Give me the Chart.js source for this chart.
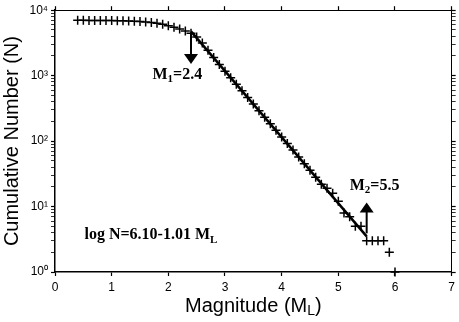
<!DOCTYPE html>
<html>
<head>
<meta charset="utf-8">
<script src="https://cdn.jsdelivr.net/npm/chart.js@4"></script>
<style>
  html, body { margin: 0; padding: 0; background: #fff; }
</style>
</head>
<body>
<canvas id="chart" width="459" height="322"></canvas>
<script>
// magnitude bins and cumulative event counts
const magnitudes = [0.4, 0.5, 0.6, 0.7, 0.8, 0.9, 1.0, 1.1, 1.2, 1.3, 1.4, 1.5, 1.6, 1.7, 1.8, 1.9,
  2.0, 2.1, 2.2, 2.3, 2.4, 2.5, 2.6, 2.7, 2.8, 2.9, 3.0, 3.1, 3.2, 3.3, 3.4, 3.5, 3.6, 3.7, 3.8, 3.9,
  4.0, 4.1, 4.2, 4.3, 4.4, 4.5, 4.6, 4.7, 4.8, 4.9, 5.0, 5.1, 5.2, 5.3, 5.4, 5.5, 5.6, 5.7, 5.8, 5.9, 6.0];
const cumulative = [7000, 7000, 6990, 6980, 6970, 6960, 6940, 6920, 6890, 6850, 6800, 6720, 6620, 6480, 6300, 6080,
  5800, 5480, 5150, 4800, 4450, 3900, 3150, 2450, 1900, 1480, 1170, 930, 740, 590, 465, 370, 292, 232, 184, 146,
  116, 92, 73, 57, 45, 36, 28, 22, 19, 16, 12, 8, 7, 5, 5, 3, 3, 3, 3, 2, 1];

// Gutenberg-Richter fit line end points
const fitM = [2.4, 5.5];
const fitN = [4740, 3.5];

// completeness / max magnitude markers
const thresholdNames = ['1', '2'];
const thresholdM = [2.4, 5.5];
const arrowFromN = [4450, 3.9];
const arrowToN = [1500, 11.5];
const labelM = [1.72, 5.2];
const labelN = [1040, 20.8];

const eqText = 'log N=6.10-1.01 M';
const eqSub = 'L';
const eqM = 0.52;
const eqN = 3.64;

const xTickValues = [0, 1, 2, 3, 4, 5, 6, 7];
const yTickValues = [1, 2, 3, 4, 5, 6, 7, 8, 9, 10, 20, 30, 40, 50, 60, 70, 80, 90,
  100, 200, 300, 400, 500, 600, 700, 800, 900, 1000, 2000, 3000, 4000, 5000, 6000, 7000, 8000, 9000, 10000];
const yLabelValues = [1, 10, 100, 1000, 10000];
const yLabelTexts = ['10\u2070', '10\u00b9', '10\u00b2', '10\u00b3', '10\u2074'];

const sans = 'Liberation Sans';
const serif = 'Liberation Serif';

// draws text with subscript parts, left aligned, vertically centred on y
function drawRuns(ctx, runs, x, y, size, family, weight) {
  let cx = x;
  runs.forEach(([txt, sub]) => {
    const s = sub ? Math.round(size * 0.7) : size;
    ctx.font = `${weight} ${s}px "${family}"`;
    ctx.fillText(txt, cx, sub ? y + size * 0.28 : y);
    cx += ctx.measureText(txt).width;
  });
  return cx - x;
}

const annotate = {
  id: 'annotate',
  afterDraw(chart) {
    const { ctx, scales: { x, y }, chartArea } = chart;
    ctx.save();
    ctx.fillStyle = '#000';
    ctx.strokeStyle = '#000';
    ctx.textBaseline = 'middle';
    ctx.textAlign = 'left';

    thresholdM.forEach((m, i) => {
      const px = x.getPixelForValue(m);
      const y0 = y.getPixelForValue(arrowFromN[i]);
      const y1 = y.getPixelForValue(arrowToN[i]);
      const dir = y1 > y0 ? 1 : -1;
      ctx.lineWidth = 2;
      ctx.beginPath();
      ctx.moveTo(px, y0);
      ctx.lineTo(px, y1 - dir * 9);
      ctx.stroke();
      ctx.beginPath();
      ctx.moveTo(px, y1);
      ctx.lineTo(px - 7, y1 - dir * 10);
      ctx.lineTo(px + 7, y1 - dir * 10);
      ctx.closePath();
      ctx.fill();

      drawRuns(ctx, [['M', false], [thresholdNames[i], true], ['=' + thresholdM[i].toFixed(1), false]],
        x.getPixelForValue(labelM[i]), y.getPixelForValue(labelN[i]), 16, serif, 'bold');
    });

    drawRuns(ctx, [[eqText, false], [eqSub, true]],
      x.getPixelForValue(eqM), y.getPixelForValue(eqN), 16, serif, 'bold');

    // x axis title with subscript
    const runs = [['Magnitude (M', false], ['L', true], [')', false]];
    ctx.globalAlpha = 0;
    const w = drawRuns(ctx, runs, 0, -100, 20, sans, 'normal');
    ctx.globalAlpha = 1;
    const cx = (chartArea.left + chartArea.right) / 2;
    drawRuns(ctx, runs, cx - w / 2, 306, 20, sans, 'normal');
    ctx.restore();
  }
};

const tickGrid = {
  drawOnChartArea: false,
  tickLength: 4,
  tickColor: '#000',
  color: '#000',
  tickWidth: (c) => (c.tick && c.tick.major ? 1.2 : 0.8)
};

new Chart(document.getElementById('chart'), {
  type: 'scatter',
  data: {
    datasets: [
      {
        label: 'Cumulative number',
        data: magnitudes.map((m, i) => ({ x: m, y: cumulative[i] })),
        pointStyle: 'cross',
        pointRadius: 4.5,
        pointBorderWidth: 1.5,
        borderColor: '#000',
        backgroundColor: '#000',
        showLine: false,
        clip: false
      },
      {
        label: 'Fit',
        data: fitM.map((m, i) => ({ x: m, y: fitN[i] })),
        showLine: true,
        borderColor: '#000',
        borderWidth: 2.5,
        pointRadius: 0
      }
    ]
  },
  options: {
    responsive: false,
    animation: false,
    devicePixelRatio: 1,
    layout: { padding: 0 },
    plugins: {
      legend: { display: false },
      tooltip: { enabled: false }
    },
    scales: {
      x: {
        type: 'linear',
        position: 'bottom',
        min: 0,
        max: 7,
        afterBuildTicks: (s) => { s.ticks = xTickValues.map((v) => ({ value: v, major: true })); },
        afterFit: (s) => { s.height = 50; },
        ticks: { color: '#000', font: { family: sans, size: 12 }, padding: 4, maxRotation: 0, autoSkip: false },
        grid: tickGrid,
        border: { color: '#000', width: 1.5 }
      },
      x2: {
        type: 'linear',
        position: 'top',
        min: 0,
        max: 7,
        afterBuildTicks: (s) => { s.ticks = xTickValues.map((v) => ({ value: v, major: true })); },
        afterFit: (s) => { s.height = 8; },
        ticks: { display: false },
        grid: tickGrid,
        border: { color: '#000', width: 1 }
      },
      y: {
        type: 'logarithmic',
        position: 'left',
        min: 1,
        max: 10000,
        afterBuildTicks: (s) => {
          s.ticks = yTickValues.map((v) => ({ value: v, major: yLabelValues.includes(v) }));
        },
        afterFit: (s) => { s.width = 55; },
        ticks: {
          color: '#000',
          font: { family: sans, size: 12 },
          padding: 3,
          autoSkip: false,
          callback: (v) => {
            const i = yLabelValues.indexOf(v);
            return i >= 0 ? yLabelTexts[i] : '';
          }
        },
        grid: tickGrid,
        border: { color: '#000', width: 1.5 },
        title: {
          display: true,
          text: 'Cumulative Number (N)',
          color: '#000',
          font: { family: sans, size: 20 },
          padding: 0
        }
      },
      y2: {
        type: 'logarithmic',
        position: 'right',
        min: 1,
        max: 10000,
        afterBuildTicks: (s) => {
          s.ticks = yTickValues.map((v) => ({ value: v, major: yLabelValues.includes(v) }));
        },
        afterFit: (s) => { s.width = 7; },
        ticks: { display: false },
        grid: tickGrid,
        border: { color: '#000', width: 1 }
      }
    }
  },
  plugins: [annotate]
});
</script>
</body>
</html>
